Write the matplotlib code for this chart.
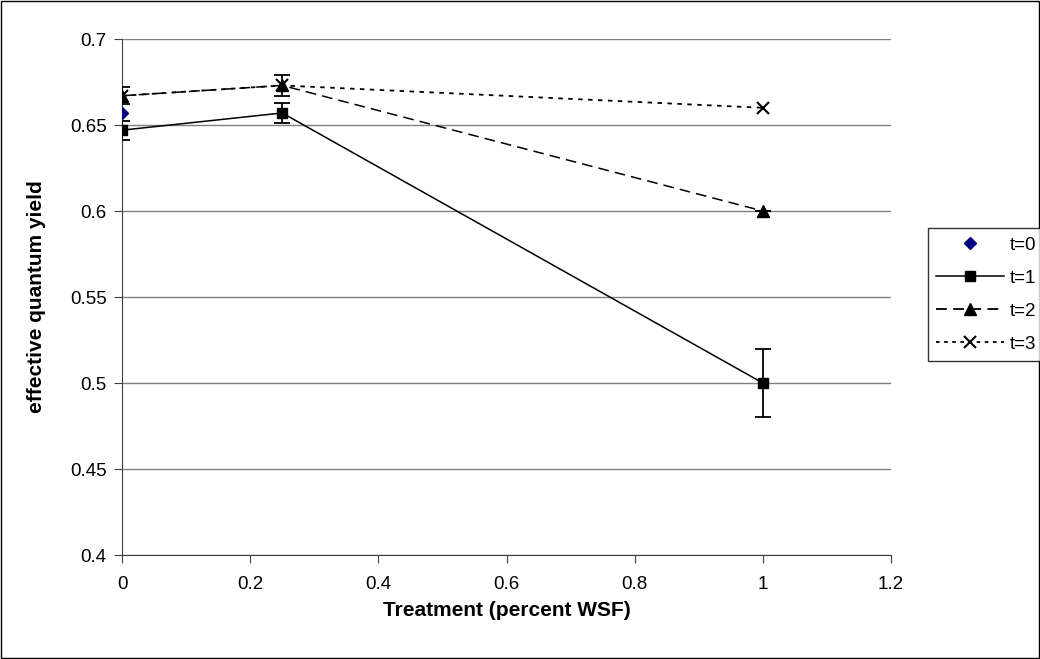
import matplotlib
matplotlib.use("Agg")
import matplotlib.pyplot as plt
from matplotlib.patches import Rectangle
from matplotlib.lines import Line2D

plt.rcParams['font.family'] = ['Liberation Sans', 'DejaVu Sans']

# data
x = [0, 0.25, 1]
t0_x = [0]
t0_y = [0.657]
t1 = [0.647, 0.657, 0.500]
t1_err = [0.0055, 0.006, 0.020]
t2 = [0.667, 0.673, 0.600]
t2_err = [0.005, 0.006, 0.0]
t3 = [0.667, 0.673, 0.660]
labels = ['t=0', 't=1', 't=2', 't=3']

fig = plt.figure(figsize=(10.4, 6.59), dpi=100)
ax = fig.add_axes([122/1040, 1 - 555/659, (891-122)/1040, (555-39)/659])

# outer frame of the chart
fig.patches.append(Rectangle((0.001, 0.001), 0.998, 0.997, transform=fig.transFigure,
                             fill=False, edgecolor='black', linewidth=1))

ax.errorbar(x, t1, yerr=t1_err, color='black', marker='s', markersize=7,
            linestyle='-', linewidth=1.1, capsize=6, elinewidth=1.3, capthick=1.3, zorder=3)
ax.errorbar(x, t2, yerr=t2_err, color='black', marker='^', markersize=8,
            linestyle=(0, (7, 4)), linewidth=1.1, capsize=6, elinewidth=1.3, capthick=1.3, zorder=3)
ax.plot(x, t3, color='black', marker='x', markersize=8, markeredgewidth=1.5,
        linestyle=(0, (2.5, 3)), linewidth=1.3, zorder=3)
ax.plot(t0_x, t0_y, linestyle='none', marker='D', markersize=6, color='#000080', zorder=4)

ax.set_xlim(0, 1.2)
ax.set_ylim(0.4, 0.7)
ax.set_xticks([0, 0.2, 0.4, 0.6, 0.8, 1, 1.2])
ax.set_xticklabels(['0', '0.2', '0.4', '0.6', '0.8', '1', '1.2'])
ax.set_yticks([0.4, 0.45, 0.5, 0.55, 0.6, 0.65, 0.7])
ax.set_yticklabels(['0.4', '0.45', '0.5', '0.55', '0.6', '0.65', '0.7'])
ax.yaxis.grid(True, color='#808080', linewidth=1)
ax.set_axisbelow(True)
ax.spines['top'].set_visible(False)
ax.spines['right'].set_visible(False)
ax.spines['left'].set_color('#404040')
ax.spines['bottom'].set_color('#404040')
ax.tick_params(direction='out', length=6, color='#404040', labelsize=13.5)
ax.tick_params(axis='x', pad=9)
ax.tick_params(axis='y', pad=5)

ax.set_xlabel('Treatment (percent WSF)', fontsize=15, fontweight='bold', labelpad=6)
ax.set_ylabel('effective quantum yield', fontsize=15, fontweight='bold', labelpad=17)

handles = [
    Line2D([], [], linestyle='none', marker='D', markersize=6, color='#000080'),
    Line2D([], [], color='black', marker='s', markersize=7, linestyle='-', linewidth=1.1),
    Line2D([], [], color='black', marker='^', markersize=8, linestyle=(0, (6, 3.5)), linewidth=1.3),
    Line2D([], [], color='black', marker='x', markersize=8, markeredgewidth=1.5,
           linestyle=(0, (2, 2.5)), linewidth=1.3),
]
leg = fig.legend(handles, labels, loc='upper left', bbox_to_anchor=(928/1040, 1 - 228/659),
                 frameon=True, fancybox=False, edgecolor='black', fontsize=13.5,
                 handlelength=3.6, borderpad=0.45, borderaxespad=0, labelspacing=0.85,
                 handletextpad=0.3)
leg.get_frame().set_linewidth(1)

fig.savefig("out.png", dpi=100)
